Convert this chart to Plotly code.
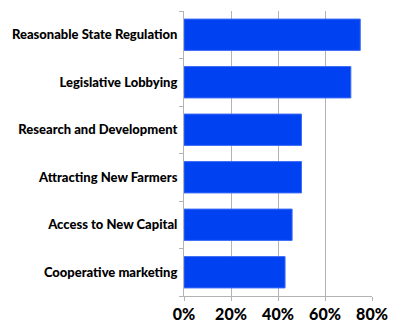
import plotly.graph_objects as go

# Survey priorities, listed top to bottom as shown on the chart
categories = [
    "Reasonable State Regulation",
    "Legislative Lobbying",
    "Research and Development",
    "Attracting New Farmers",
    "Access to New Capital",
    "Cooperative marketing",
]
values = [75, 71, 50, 50, 46, 43]  # percent
x_ticks = [0, 20, 40, 60, 80]
x_tick_labels = ["0%", "20%", "40%", "60%", "80%"]

FONT = "Lato, Liberation Sans Narrow, sans-serif"
GRID = "#b3b3b3"

fig = go.Figure(
    go.Bar(
        x=values,
        y=categories,
        orientation="h",
        marker=dict(color="#0041f2", line=dict(color="#3d6cf6", width=1)),
        hoverinfo="x+y",
    )
)

fig.update_layout(
    width=403,
    height=323,
    margin=dict(l=184, r=31, t=11, b=27),
    paper_bgcolor="white",
    plot_bgcolor="white",
    bargap=0.34,
    showlegend=False,
    font=dict(family=FONT, color="#000000"),
)

fig.update_xaxes(
    range=[0, 80],
    tickvals=x_ticks,
    ticktext=x_tick_labels,
    tickfont=dict(size=16, family=FONT, weight=900),
    showgrid=True,
    gridcolor=GRID,
    gridwidth=1,
    zeroline=False,
    showline=True,
    linecolor=GRID,
    linewidth=1,
    ticks="outside",
    ticklen=4,
    tickcolor=GRID,
    automargin=False,
    fixedrange=True,
)

fig.update_yaxes(
    categoryorder="array",
    categoryarray=categories[::-1],
    tickfont=dict(size=13, family=FONT, weight=900),
    showgrid=False,
    showline=True,
    linecolor=GRID,
    linewidth=1,
    ticks="outside",
    tickson="boundaries",
    ticklen=4,
    tickcolor=GRID,
    ticklabelstandoff=3,
    automargin=False,
    fixedrange=True,
)

fig.write_html("out.html")
